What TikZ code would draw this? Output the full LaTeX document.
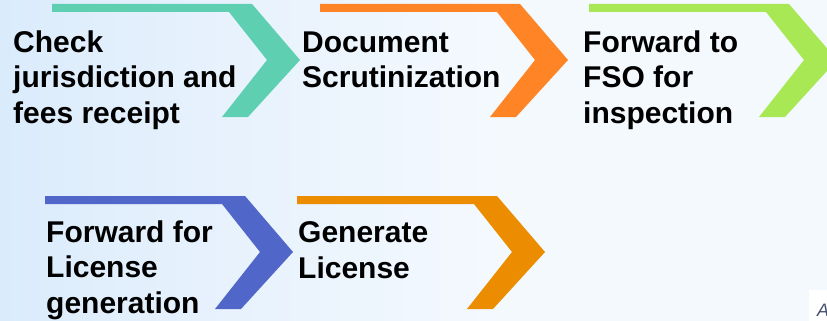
\documentclass[tikz,border=0pt]{standalone}
\usepackage{fontspec}
\setmainfont{Liberation Sans}
\definecolor{bgL}{RGB}{186,221,249}
\definecolor{bgM}{RGB}{224,238,252}
\definecolor{bgR}{RGB}{244,249,254}
\definecolor{cTeal}{RGB}{94,207,177}
\definecolor{cOrangeA}{RGB}{255,132,38}
\definecolor{cGreen}{RGB}{168,232,84}
\definecolor{cBlue}{RGB}{80,102,200}
\definecolor{cOrangeB}{RGB}{236,140,0}
\definecolor{cMark}{RGB}{70,80,110}
\pgfdeclarehorizontalshading{bgshade}{100bp}{color(0bp)=(bgL); color(30bp)=(bgM); color(55bp)=(bgR); color(100bp)=(bgR)}
\tikzset{
  chev/.pic={\fill[pic actions] (0,0) -- (200,0) -- (248,56) -- (196,113) -- (170,113) -- (215,56) -- (177,8) -- (0,8) -- cycle;},
  steptext/.style={anchor=base west, align=left, inner sep=0pt, font=\fontsize{30}{35.3}\selectfont\bfseries, text=black}
}
\begin{document}
\begin{tikzpicture}[x=1pt,y=-1pt]
\useasboundingbox (0,0) rectangle (827,321);
\begin{scope}
\clip (0,0) rectangle (827,321);
\shade[shading=bgshade] (0,0) rectangle (827,321);
\pic[fill=cTeal] at (52,4) {chev};
\pic[fill=cOrangeA] at (320,4) {chev};
\pic[fill=cGreen] at (589,4) {chev};
\pic[fill=cBlue] at (45,196) {chev};
\pic[fill=cOrangeB] at (297,196) {chev};
\fill[white] (809,290) rectangle (830,325);
\node[anchor=base west, inner sep=0pt, font=\fontsize{18}{20}\selectfont\itshape, text=cMark] (mark) at (817,316) {A};
\end{scope}
\node[steptext] (t1) at (13,123) {Check\\jurisdiction and\\fees receipt};
\node[steptext] (t2) at (302,88) {Document\\Scrutinization};
\node[steptext] (t3) at (583,123) {Forward to\\FSO for\\inspection};
\node[steptext] (t4) at (46,313) {Forward for\\License\\generation};
\node[steptext] (t5) at (298,278) {Generate\\License};
\end{tikzpicture}
\end{document}
